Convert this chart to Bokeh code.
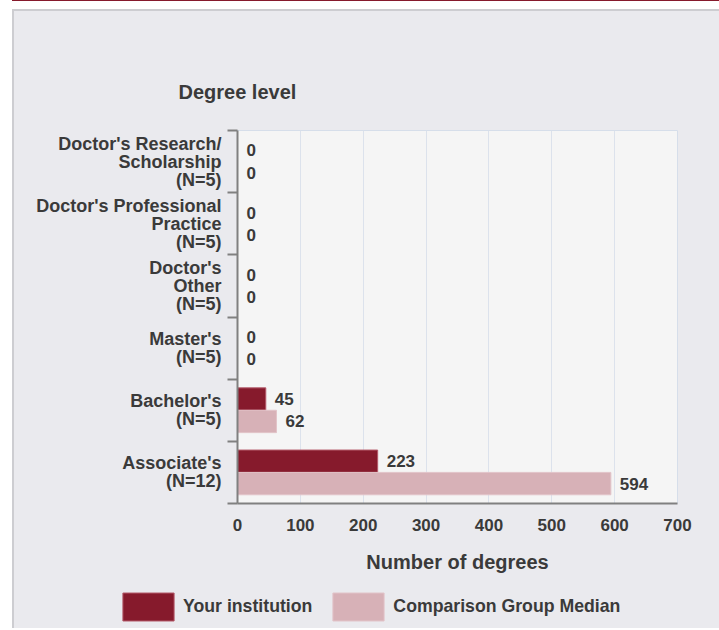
from bokeh.plotting import figure
from bokeh.layouts import column
from bokeh.models import (Range1d, FixedTicker, ColumnDataSource, Legend, LegendItem, Title)
from bokeh.core.properties import value
from bokeh.embed import file_html
from bokeh.resources import INLINE

# ---- data ----
categories = ["Doctor's Research/\nScholarship", "Doctor's Professional\nPractice",
              "Doctor's\nOther", "Master's", "Bachelor's", "Associate's"]
group_sizes = ["(N=5)", "(N=5)", "(N=5)", "(N=5)", "(N=5)", "(N=12)"]
your_institution = [0, 0, 0, 0, 45, 223]
comparison_median = [0, 0, 0, 0, 62, 594]
x_ticks = [0, 100, 200, 300, 400, 500, 600, 700]
series_names = ["Your institution", "Comparison Group Median"]

FONT = "Liberation Sans"
TXT = "#3a3a3a"
DARK = "#861A2C"
LIGHT = "#D7B1B7"
BG = "#EAEAEE"

centers = [i + 0.5 for i in range(len(categories))]
bounds = [float(i) for i in range(len(categories) + 1)]

p = figure(width=705, height=578, output_backend="svg", toolbar_location=None,
           x_range=Range1d(0, 700), y_range=Range1d(len(categories), 0),
           min_border_left=223, min_border_right=42, min_border_top=119,
           min_border_bottom=86, title=None)

p.background_fill_color = "#F5F5F5"
p.border_fill_color = BG
p.outline_line_color = "#D6DEEA"
p.outline_line_width = 1

src = ColumnDataSource(dict(
    y=centers,
    y1=[c - 0.18 for c in centers],
    y2=[c + 0.18 for c in centers],
    you=your_institution,
    comp=comparison_median,
    you_txt=[str(v) for v in your_institution],
    comp_txt=[str(v) for v in comparison_median],
))

bar_style = [dict(fill_color=DARK, line_color="#B45A6A"),
             dict(fill_color=LIGHT, line_color="#E2C4C9")]

p.hbar(y="y1", right="you", left=0, height=0.36, source=src, line_width=1, **bar_style[0])
p.hbar(y="y2", right="comp", left=0, height=0.36, source=src, line_width=1, **bar_style[1])

for col, ycol in (("you", "y1"), ("comp", "y2")):
    p.text(x=col, y=ycol, text=col + "_txt", source=src, x_offset=9,
           text_align="left", text_baseline="middle",
           text_font=value(FONT), text_font_style="bold",
           text_font_size="17px", text_color=TXT)

# x axis
xa = p.xaxis[0]
xa.ticker = FixedTicker(ticks=x_ticks)
xa.major_tick_out = 0
xa.major_tick_in = 0
xa.minor_tick_line_color = None
xa.axis_line_color = "#808080"
xa.axis_line_width = 2
xa.major_label_standoff = 15
xa.major_label_text_font = FONT
xa.major_label_text_font_style = "bold"
xa.major_label_text_font_size = "17px"
xa.major_label_text_color = TXT

# y axis
ya = p.yaxis[0]
ya.ticker = FixedTicker(ticks=centers, minor_ticks=bounds)
ya.major_tick_line_color = None
ya.major_tick_out = 0
ya.major_tick_in = 0
ya.minor_tick_out = 10
ya.minor_tick_in = 0
ya.minor_tick_line_color = "#808080"
ya.minor_tick_line_width = 2
ya.axis_line_color = "#808080"
ya.axis_line_width = 2
ya.major_label_standoff = 6
ya.major_label_overrides = {c: f"{name}\n{n}" for c, name, n in zip(centers, categories, group_sizes)}
ya.major_label_text_font = FONT
ya.major_label_text_font_style = "bold"
ya.major_label_text_font_size = "18px"
ya.major_label_text_color = TXT
ya.major_label_text_line_height = 0.9

p.xgrid.ticker = FixedTicker(ticks=x_ticks)
p.xgrid.grid_line_color = "#DCE2EC"
p.ygrid.grid_line_color = None

t_top = Title(text="Degree level", align="left", offset=-59, standoff=56,
              text_font=FONT, text_font_style="bold", text_font_size="20px",
              text_color=TXT)
p.add_layout(t_top, "above")

t_bot = Title(text="Number of degrees", align="center", standoff=30,
              text_font=FONT, text_font_style="bold", text_font_size="20px",
              text_color=TXT)
p.add_layout(t_bot, "below")

# ---- legend strip (separate canvas so the legend is not clipped by the frame) ----
pl = figure(width=705, height=39, output_backend="svg", toolbar_location=None,
            x_range=Range1d(800, 900), y_range=Range1d(10, 11),
            x_axis_location=None, y_axis_location=None, min_border=0, title=None)
pl.background_fill_color = BG
pl.border_fill_color = BG
pl.outline_line_color = None
pl.grid.grid_line_color = None
l1 = pl.hbar(y="y1", right="you", left=0, height=0.36, source=src, line_width=1, **bar_style[0])
l2 = pl.hbar(y="y2", right="comp", left=0, height=0.36, source=src, line_width=1, **bar_style[1])

legend = Legend(items=[LegendItem(label=series_names[0], renderers=[l1]),
                       LegendItem(label=series_names[1], renderers=[l2])],
                orientation="horizontal", location=(102, 4),
                glyph_width=64, glyph_height=35, label_standoff=3, spacing=14,
                padding=0, margin=0, border_line_color=None,
                background_fill_alpha=0,
                label_text_font=FONT, label_text_font_style="bold",
                label_text_font_size="17.7px", label_text_color=TXT)
pl.add_layout(legend, "center")

layout = column(p, column(pl, spacing=0), spacing=0)
layout.styles = {"margin-left": "12px", "margin-top": "9px",
                 "border-left": "2px solid #CDCDD1", "border-top": "2px solid #CDCDD1",
                 "background-color": BG,
                 "box-shadow": "0 -8px 0 0 #FFFFFF, 0 -9px 0 0 #861A2C"}

open("out.html", "w").write(file_html(layout, INLINE))
